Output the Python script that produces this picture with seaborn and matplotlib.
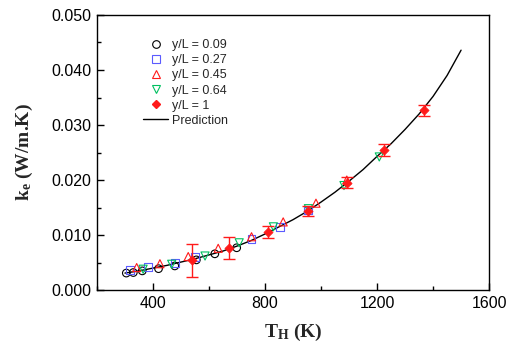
import matplotlib
matplotlib.use("Agg")
import matplotlib.pyplot as plt
from matplotlib.lines import Line2D
from matplotlib.ticker import MultipleLocator, FormatStrFormatter
import seaborn as sns
import pandas as pd

# ---- data ----
t_009 = [305, 330, 362, 420, 478, 555, 621, 699]
k_009 = [0.0031, 0.0032, 0.0035, 0.0039, 0.0044, 0.0055, 0.0066, 0.0077]

t_027 = [318, 383, 479, 550, 752, 854, 954]
k_027 = [0.0037, 0.0042, 0.0049, 0.0060, 0.0093, 0.0115, 0.0145]

t_045 = [342, 425, 526, 633, 752, 865, 982, 1092]
k_045 = [0.0041, 0.0048, 0.0061, 0.0076, 0.0097, 0.0124, 0.0158, 0.0200]

t_064 = [365, 467, 586, 708, 830, 955, 1082, 1208]
k_064 = [0.0038, 0.0047, 0.0062, 0.0086, 0.0115, 0.0148, 0.0190, 0.0242]

t_1 = [538, 673, 812, 952, 1092, 1226, 1367]
k_1 = [0.0054, 0.0076, 0.0106, 0.0144, 0.0195, 0.0255, 0.0327]
e_1 = [0.0030, 0.0020, 0.0011, 0.0009, 0.0010, 0.0011, 0.0010]

t_pred = [300, 350, 400, 450, 500, 550, 600, 650, 700, 750, 800, 850, 900,
          950, 1000, 1050, 1100, 1150, 1200, 1250, 1300, 1350, 1400, 1450, 1500]
k_pred = [0.0031, 0.0035, 0.0040, 0.0045, 0.0051, 0.0057, 0.0064, 0.0071,
          0.0080, 0.0090, 0.0102, 0.0115, 0.0128, 0.0143, 0.0160, 0.0178,
          0.0198, 0.0219, 0.0243, 0.0266, 0.0292, 0.0320, 0.0352, 0.0390, 0.0436]

labels = ["y/L = 0.09", "y/L = 0.27", "y/L = 0.45", "y/L = 0.64", "y/L = 1", "Prediction"]

# ---- style ----
sns.set_theme(style="ticks")
plt.rcParams["font.family"] = ["Liberation Sans", "DejaVu Sans"]
plt.rcParams["mathtext.fontset"] = "custom"
plt.rcParams["mathtext.rm"] = "Liberation Serif:bold"
plt.rcParams["mathtext.it"] = "Liberation Serif:bold"
plt.rcParams["mathtext.bf"] = "Liberation Serif:bold"

fig = plt.figure(figsize=(5.10, 3.56), dpi=100)
ax = fig.add_axes([0.190, 0.185, 0.769, 0.773])

c_blue = "#5b5bff"
c_red = "#ff1a1a"
c_green = "#00c060"

open_series = [
    (t_009, k_009, "o", "black", 30),
    (t_027, k_027, "s", c_blue, 30),
    (t_045, k_045, "^", c_red, 34),
    (t_064, k_064, "v", c_green, 34),
]

# prediction line
sns.lineplot(x=t_pred, y=k_pred, color="black", linewidth=1.0, ax=ax, sort=True)

for t, k, m, c, s in open_series:
    df = pd.DataFrame({"T": t, "k": k})
    sns.scatterplot(data=df, x="T", y="k", marker=m, s=s, facecolors="none",
                    edgecolor=c, linewidth=0.8, ax=ax, zorder=3)

# y/L = 1 with error bars
ax.errorbar(t_1, k_1, yerr=e_1, fmt="none", ecolor=c_red, elinewidth=1.0,
            capsize=4, capthick=1.0, zorder=4)
df1 = pd.DataFrame({"T": t_1, "k": k_1})
sns.scatterplot(data=df1, x="T", y="k", marker="D", s=22, color=c_red,
                edgecolor=c_red, linewidth=0.5, ax=ax, zorder=5)

ax.set_xlim(200, 1600)
ax.set_ylim(0, 0.05)
ax.xaxis.set_major_locator(MultipleLocator(400))
ax.xaxis.set_minor_locator(MultipleLocator(200))
ax.yaxis.set_major_locator(MultipleLocator(0.01))
ax.yaxis.set_minor_locator(MultipleLocator(0.005))
ax.yaxis.set_major_formatter(FormatStrFormatter("%.3f"))

ax.tick_params(which="both", direction="in", color="black", width=1.0,
               labelsize=11.5, labelcolor="black")
ax.tick_params(which="major", length=5, pad=4)
ax.tick_params(which="minor", length=3)
for sp in ax.spines.values():
    sp.set_visible(True)
    sp.set_color("black")
    sp.set_linewidth(1.0)

ax.set_xlabel(r"T$_\mathrm{H}$ (K)", fontsize=14, fontweight="bold",
              family="Liberation Serif", labelpad=8)
ax.set_ylabel(r"k$_\mathrm{e}$ (W/m.K)", fontsize=14, fontweight="bold",
              family="Liberation Serif", labelpad=12)

handles = [
    Line2D([], [], linestyle="", marker="o", markersize=5.5, mfc="none", mec="black", mew=0.8),
    Line2D([], [], linestyle="", marker="s", markersize=5.5, mfc="none", mec=c_blue, mew=0.8),
    Line2D([], [], linestyle="", marker="^", markersize=6, mfc="none", mec=c_red, mew=0.8),
    Line2D([], [], linestyle="", marker="v", markersize=6, mfc="none", mec=c_green, mew=0.8),
    Line2D([], [], linestyle="", marker="D", markersize=4.5, mfc=c_red, mec=c_red),
    Line2D([], [], color="black", linewidth=1.0),
]
ax.legend(handles, labels, loc="upper left", bbox_to_anchor=(0.105, 0.93),
          frameon=False, fontsize=9, handlelength=2.0, handletextpad=0.35,
          labelspacing=0.25, borderaxespad=0)

fig.savefig("out.png", dpi=100)
